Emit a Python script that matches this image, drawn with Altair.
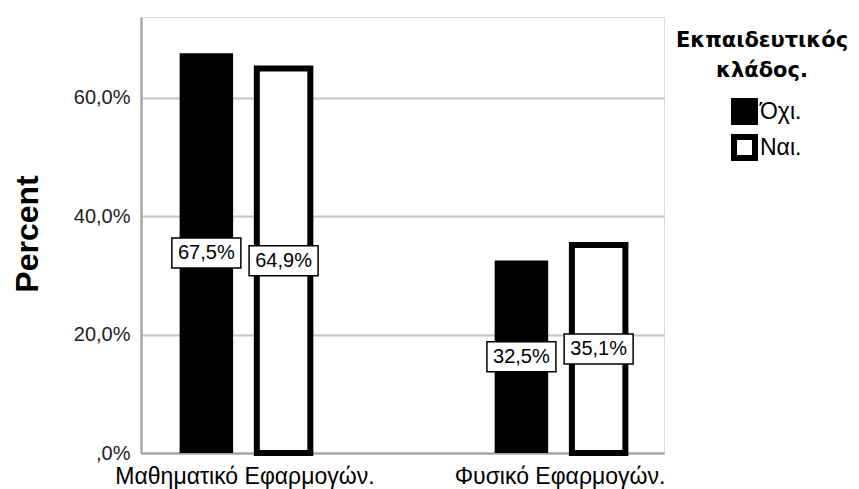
import json
import altair as alt
import pandas as pd

# ---- data ----
category_names = ["Μαθηματικό Εφαρμογών.", "Φυσικό Εφαρμογών."]
group_names = ["Όχι.", "Ναι."]
pct_oxi = [67.5, 32.5]
pct_nai = [64.9, 35.1]
label_oxi = ["67,5%", "32,5%"]
label_nai = ["64,9%", "35,1%"]
y_tick_values = [0, 20, 40, 60]
y_tick_labels = [",0%", "20,0%", "40,0%", "60,0%"]
group_fills = ["black", "white"]
legend_title = ["Εκπαιδευτικός", "κλάδος."]
y_title = "Percent"

rows = []
for i, c in enumerate(category_names):
    rows.append({"cat": c, "group": group_names[0], "pct": pct_oxi[i], "label": label_oxi[i]})
    rows.append({"cat": c, "group": group_names[1], "pct": pct_nai[i], "label": label_nai[i]})
df = pd.DataFrame(rows)

FONT = "Liberation Sans"
label_expr = "{}[indexof({}, datum.value)]".format(json.dumps(y_tick_labels, ensure_ascii=False),
                                                  json.dumps(y_tick_values))

y_scale = alt.Scale(domain=[0, 73.6], nice=False, zero=True)
y_axis = alt.Axis(values=y_tick_values, labelExpr=label_expr, title=y_title,
                  titleFont=FONT, titleFontSize=32, titleFontWeight="bold", titleColor="black",
                  titleAngle=270, titleX=-104, titleY=216.5, titleBaseline="alphabetic",
                  titleAlign="center",
                  grid=True, gridColor="#c4c4c4", gridWidth=2, ticks=False,
                  domainColor="#a8a8a8", domainWidth=2.5,
                  labelFont=FONT, labelFontSize=20, labelColor="#222222", labelPadding=11)
x_enc = alt.X(
    "cat:N", sort=category_names,
    scale=alt.Scale(paddingInner=0.5, paddingOuter=0.08),
    axis=alt.Axis(title=None, labelAngle=0, labelFont=FONT, labelFontSize=23, labelColor="black",
                  labelPadding=12, labelBaseline="top", labelLimit=0, labelOverlap=False,
                  ticks=False, domainColor="#a0a0a0", domainWidth=2),
)
xo_enc = alt.XOffset("group:N", sort=group_names,
                     scale=alt.Scale(paddingInner=0.307, paddingOuter=0.1735))

base = alt.Chart(df)

bars = base.mark_bar(stroke="black").encode(
    x=x_enc,
    xOffset=xo_enc,
    y=alt.Y("pct:Q", scale=y_scale, axis=y_axis),
    fill=alt.Fill("group:N", sort=group_names,
                  scale=alt.Scale(domain=group_names, range=group_fills),
                  legend=alt.Legend(title=legend_title, orient="none", legendX=535, legendY=13,
                                    direction="vertical", padding=0,
                                    titleFont="DejaVu Sans", titleFontSize=21, titleFontWeight="bold",
                                    titleColor="black", titleAnchor="middle", titleAlign="center",
                                    titleLineHeight=30, titlePadding=17,
                                    symbolType="square", symbolSize=441, symbolStrokeColor="black",
                                    symbolStrokeWidth=6, symbolOffset=9, labelOffset=2,
                                    labelFont=FONT, labelFontSize=23, labelColor="black",
                                    rowPadding=-30)),
    strokeWidth=alt.condition(alt.datum.group == group_names[1], alt.value(6), alt.value(0)),
)

box_shape = "M-1,-0.435H1V0.435H-1Z"
boxes = base.transform_calculate(mid="datum.pct / 2").mark_point(
    shape=box_shape, size=4761, filled=True, fill="white", stroke="black", strokeWidth=1.5, opacity=1
).encode(
    x=x_enc, xOffset=xo_enc,
    y=alt.Y("mid:Q", scale=y_scale, axis=y_axis),
)

texts = base.transform_calculate(mid="datum.pct / 2").mark_text(
    font=FONT, fontSize=20, color="black", align="center", baseline="middle"
).encode(
    x=x_enc, xOffset=xo_enc,
    y=alt.Y("mid:Q", scale=y_scale, axis=y_axis),
    text="label:N",
)

chart = alt.layer(bars, boxes, texts).properties(
    width=523, height=436,
    autosize=alt.AutoSizeParams(type="none"),
    padding={"left": 133, "top": 9, "right": 186, "bottom": 36},
).configure_view(stroke=None).configure(background="white")

chart.save("out.html", embed_options={"renderer": "svg", "actions": False})
